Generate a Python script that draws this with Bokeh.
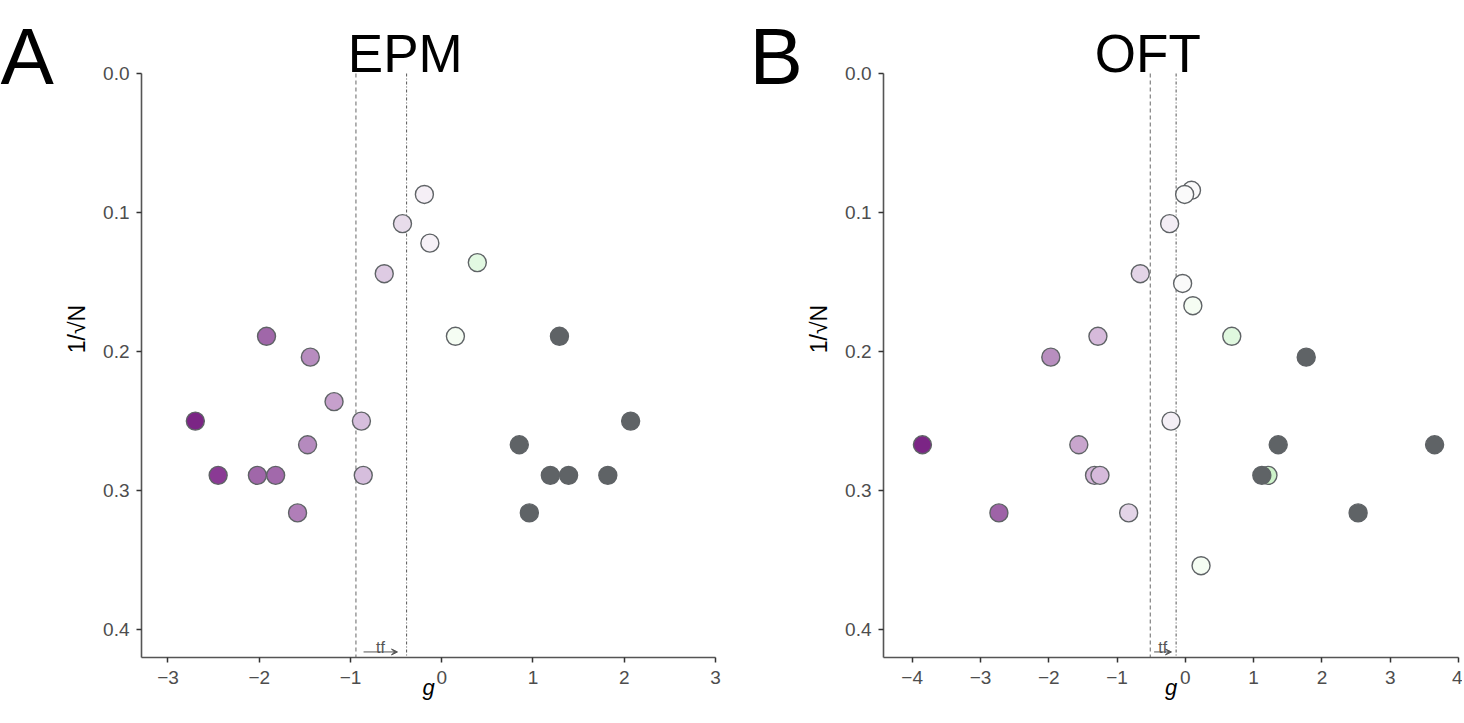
from bokeh.plotting import figure
from bokeh.layouts import row
from bokeh.models import (Range1d, Arrow, VeeHead, FixedTicker,
                          PrintfTickFormatter, CustomJSTickFormatter, ColumnDataSource)
from bokeh.core.properties import value
from bokeh.embed import file_html
from bokeh.resources import INLINE

# ---------------- data ----------------
epm_g = [-0.19, -0.43, -0.13, 0.39, -0.63, -1.92, 0.15, 1.29, -1.44, -1.18,
         -2.70, -0.88, 2.07, -1.47, 0.85, -2.45, -2.02, -1.82, -0.86, 1.19,
         1.39, 1.82, -1.58, 0.96]
epm_se = [0.087, 0.108, 0.122, 0.136, 0.144, 0.189, 0.189, 0.189, 0.204, 0.236,
          0.250, 0.250, 0.250, 0.267, 0.267, 0.289, 0.289, 0.289, 0.289, 0.289,
          0.289, 0.289, 0.316, 0.316]
epm_fill = ["#f5eff6", "#e8dceb", "#f6f1f7", "#e2f9e2", "#decbe3", "#a067a9",
            "#f5fdf3", "#5f6366", "#b78cbf", "#c6a0cc", "#7b2585", "#d6bedd",
            "#5f6366", "#b58abe", "#5f6366", "#8a3a94", "#a067a9", "#a269ab",
            "#d6bedd", "#5f6366", "#5f6366", "#5f6366", "#b07eb8", "#5f6366"]
epm_est = -0.94      # dashed line
epm_adj = -0.385     # dash-dot line (trim-and-fill)

oft_g = [0.09, -0.01, -0.23, -0.66, -0.04, 0.11, -1.28, 0.68, -1.97, 1.77,
         -0.21, -3.85, -1.56, 1.36, 3.65, -1.33, -1.25, 1.21, 1.12, -2.73,
         -0.83, 2.53, 0.23]
oft_se = [0.084, 0.087, 0.108, 0.144, 0.151, 0.167, 0.189, 0.189, 0.204, 0.204,
          0.250, 0.267, 0.267, 0.267, 0.267, 0.289, 0.289, 0.289, 0.289, 0.316,
          0.316, 0.316, 0.354]
oft_fill = ["#fafafa", "#fafafa", "#f3edf5", "#e3d4e7", "#fafafa", "#f5fdf3",
            "#d6badb", "#e0f8df", "#b88ebf", "#5f6366", "#f4eff6", "#7b2585",
            "#c8a5cd", "#5f6366", "#5f6366", "#d3b5d8", "#d6badb", "#cdf2c9",
            "#5f6366", "#9e63a7", "#e3d4e7", "#5f6366", "#f5fdf3"]
oft_est = -0.514
oft_adj = -0.135

y_ticks = [0.0, 0.1, 0.2, 0.3, 0.4]
epm_xticks = [-3, -2, -1, 0, 1, 2, 3]
oft_xticks = [-4, -3, -2, -1, 0, 1, 2, 3, 4]

FONT = "Liberation Sans"
H = 720
Y_MAX = 0.42
Y_TOP = -0.0525          # room above the axis for the title
minus_fmt = CustomJSTickFormatter(
    code="return tick < 0 ? '\u2212' + Math.abs(tick) : String(tick);")


def letter_fig(letter, width, x_off):
    f = figure(width=width, height=H, x_range=Range1d(0, width),
               y_range=Range1d(0, H), output_backend="svg",
               toolbar_location=None, title=None,
               x_axis_location=None, y_axis_location=None,
               min_border_left=0, min_border_right=0,
               min_border_top=0, min_border_bottom=0)
    f.xgrid.visible = False
    f.ygrid.visible = False
    f.outline_line_color = None
    f.text(x=[x_off], y=[H - 61], text=[letter], text_align="left",
           text_baseline="alphabetic", text_font=value(FONT),
           text_font_size="80px", text_color="black")
    return f


def panel(g, se, fill, est, adj, xticks, xr, title, title_x, width,
          mb_left, mb_right):
    p = figure(width=width, height=H, x_range=Range1d(*xr),
               y_range=Range1d(Y_MAX, Y_TOP), output_backend="svg",
               toolbar_location=None, title=None,
               min_border_left=mb_left, min_border_right=mb_right,
               min_border_top=0, min_border_bottom=H - 657)
    p.xgrid.visible = False
    p.ygrid.visible = False
    p.outline_line_color = None

    for ax in (p.xaxis[0], p.yaxis[0]):
        ax.axis_line_color = "#555555"
        ax.axis_line_width = 1.6
        ax.major_tick_line_color = "#333333"
        ax.major_tick_line_width = 1.5
        ax.major_tick_out = 5
        ax.major_tick_in = 0
        ax.minor_tick_line_color = None
        ax.major_label_text_font = FONT
        ax.major_label_text_font_size = "19px"
        ax.major_label_text_color = "#4d4d4d"
        ax.axis_label_text_font = FONT
        ax.axis_label_text_color = "black"

    p.xaxis.ticker = FixedTicker(ticks=xticks)
    p.xaxis.formatter = minus_fmt
    p.xaxis.axis_label = "g"
    p.xaxis.axis_label_text_font_style = "italic"
    p.xaxis.axis_label_text_font_size = "22px"
    p.xaxis.major_label_standoff = 8
    p.xaxis.axis_label_standoff = -12

    p.yaxis.ticker = FixedTicker(ticks=y_ticks)
    p.yaxis.bounds = (0, Y_MAX)
    p.yaxis.formatter = PrintfTickFormatter(format="%.1f")
    p.yaxis.axis_label = "1/\u221aN"
    p.yaxis.axis_label_text_font_style = "normal"
    p.yaxis.axis_label_text_font_size = "23px"
    p.yaxis.major_label_standoff = 7
    p.yaxis.axis_label_standoff = 10

    # reference lines (estimate: dashed, trim-and-fill adjusted: dash-dot)
    p.segment(x0=[est], y0=[0], x1=[est], y1=[Y_MAX], line_color="#666666",
              line_width=1, line_dash="4 3")
    p.segment(x0=[adj], y0=[0], x1=[adj], y1=[Y_MAX], line_color="#555555",
              line_width=1, line_dash="3 2 1 2")

    d = adj - est
    x0 = est + 0.15 * d
    x1 = adj - 0.18 * d
    p.add_layout(Arrow(x_start=x0, x_end=x1, y_start=0.416, y_end=0.416,
                       line_color="#555555", line_width=1,
                       end=VeeHead(size=6, line_color="#555555", line_width=1,
                                   fill_color="#555555")))
    p.text(x=[(x0 + x1) / 2], y=[0.413], text=["tf"], text_align="center",
           text_baseline="alphabetic", text_font=value(FONT),
           text_font_size="16px", text_color="#555555")

    src = ColumnDataSource(dict(g=g, se=se, fill=fill))
    p.scatter("g", "se", source=src, size=18, fill_color="fill",
              line_color="#5f6366", line_width=1.4)

    p.text(x=[title_x], y=[-0.0144], text=[title], text_align="center",
           text_baseline="alphabetic", text_font=value(FONT),
           text_font_size="53px", text_color="black")
    return p


la = letter_fig("A", 61, 0)
pa = panel(epm_g, epm_se, epm_fill, epm_est, epm_adj, epm_xticks, (-3.29, 3.0),
           "EPM", -0.40, 664, 80, 10)
lb = letter_fig("B", 78, 24)
pb = panel(oft_g, oft_se, oft_fill, oft_est, oft_adj, oft_xticks, (-4.42, 4.0),
           "OFT", -0.55, 659, 79, 4)

layout = row(la, pa, lb, pb, spacing=0)
open("out.html", "w").write(file_html(layout, INLINE))
